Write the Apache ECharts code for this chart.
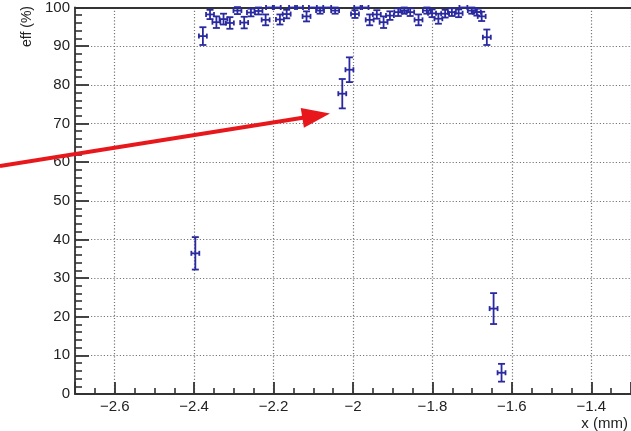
<!DOCTYPE html>
<html>
<head>
<meta charset="utf-8">
<script src="https://cdn.jsdelivr.net/npm/echarts@6/dist/echarts.min.js"></script>
<style>
  html, body { margin: 0; padding: 0; background: #fff; }
  #chart { width: 631px; height: 431px; }
</style>
</head>
<body>
<div id="chart"></div>
<script>
// efficiency vs x position
var xPos = [-2.397, -2.378, -2.360, -2.344, -2.326, -2.310, -2.291, -2.274, -2.257, -2.238,
  -2.220, -2.209, -2.192, -2.184, -2.167, -2.151, -2.136, -2.117, -2.101, -2.083,
  -2.065, -2.045, -2.027, -2.009, -1.995, -1.987, -1.971, -1.958, -1.940, -1.923,
  -1.907, -1.886, -1.871, -1.856, -1.835, -1.814, -1.801, -1.785, -1.768, -1.751,
  -1.734, -1.722, -1.701, -1.688, -1.676, -1.663, -1.646, -1.626];
var eff = [36.4, 92.6, 98.2, 96.2, 97.0, 96.0, 99.2, 96.1, 98.7, 99.1,
  96.8, 100, 100, 96.9, 98.3, 100, 100, 97.7, 100, 99.2,
  100, 99.2, 77.7, 83.9, 98.3, 100, 100, 96.8, 98.2, 96.2,
  97.9, 98.8, 99.2, 98.8, 96.8, 99.2, 98.5, 97.1, 98.4, 98.8,
  98.5, 100, 99.2, 98.8, 97.7, 92.3, 22.1, 5.5];
var effErr = [4.2, 2.3, 1.2, 1.5, 1.4, 1.5, 0.9, 1.5, 1.0, 0.9,
  1.4, 0, 0, 1.3, 1.1, 0, 0, 1.3, 0, 0.8,
  0, 0.8, 3.8, 3.2, 1.0, 0, 0, 1.4, 1.1, 1.5,
  1.1, 1.0, 0.8, 1.0, 1.4, 0.8, 1.0, 1.3, 1.0, 1.0,
  1.0, 0, 0.8, 0.9, 1.2, 2.0, 4.0, 2.3];
var xErr = 0.01; // half bin width

// annotation arrow (data coords): tail -> tip
var arrowTail = [-2.889, 59.0];
var arrowTip = [-2.058, 72.6];

var markColor = '#2a2aa0';
var axisColor = '#333';
var font = '"Liberation Sans", Arial, Helvetica, sans-serif';

var points = [];
for (var i = 0; i < xPos.length; i++) {
  points.push([xPos[i], eff[i], effErr[i]]);
}

function renderErr(params, api) {
  var x = api.value(0), y = api.value(1), e = api.value(2);
  var c = api.coord([x, y]);
  var l = api.coord([x - xErr, y]);
  var r = api.coord([x + xErr, y]);
  var st = { stroke: markColor, lineWidth: 1.8 };
  var kids = [
    { type: 'line', shape: { x1: l[0], y1: c[1], x2: r[0], y2: c[1] }, style: st },
    { type: 'line', shape: { x1: l[0], y1: c[1] - 2.5, x2: l[0], y2: c[1] + 2.5 }, style: st },
    { type: 'line', shape: { x1: r[0], y1: c[1] - 2.5, x2: r[0], y2: c[1] + 2.5 }, style: st }
  ];
  if (e > 0) {
    var t = api.coord([x, y + e]);
    var b = api.coord([x, y - e]);
    kids.push({ type: 'line', shape: { x1: c[0], y1: t[1], x2: c[0], y2: b[1] }, style: st });
    kids.push({ type: 'line', shape: { x1: c[0] - 3.5, y1: t[1], x2: c[0] + 3.5, y2: t[1] }, style: st });
    kids.push({ type: 'line', shape: { x1: c[0] - 3.5, y1: b[1], x2: c[0] + 3.5, y2: b[1] }, style: st });
  }
  return { type: 'group', children: kids };
}

var chart = echarts.init(document.getElementById('chart'));

chart.setOption({
  animation: false,
  backgroundColor: '#fff',
  grid: { left: 75, top: 7, right: 0, bottom: 37 },
  xAxis: [{
    type: 'value',
    min: -2.7,
    max: -1.3,
    splitNumber: 7,
    axisLine: { show: true, lineStyle: { color: axisColor, width: 1.8 } },
    axisTick: { show: true, inside: true, length: 12, lineStyle: { color: axisColor, width: 1.8 } },
    minorTick: { show: true, splitNumber: 4, length: 6, lineStyle: { color: axisColor, width: 1.6 } },
    axisLabel: {
      showMinLabel: false, showMaxLabel: false,
      color: '#222', fontSize: 15, fontFamily: font, margin: 5,
      formatter: function (v) { return String(+v.toFixed(1)).replace('-', '\u2212'); }
    },
    splitLine: { show: true, lineStyle: { color: '#777', type: [1.2, 2], width: 1.2 } }
  }, {
    type: 'value',
    position: 'top',
    min: -2.7,
    max: -1.3,
    axisLine: { show: true, onZero: false, lineStyle: { color: axisColor, width: 1.8 } },
    axisTick: { show: false },
    axisLabel: { show: false },
    splitLine: { show: false }
  }],
  yAxis: {
    type: 'value',
    min: 0,
    max: 100,
    interval: 10,
    axisLine: { show: true, lineStyle: { color: axisColor, width: 1.8 } },
    axisTick: { show: true, inside: true, length: 14, lineStyle: { color: axisColor, width: 1.8 } },
    minorTick: { show: true, splitNumber: 5, length: 7, lineStyle: { color: axisColor, width: 1.6 } },
    axisLabel: { color: '#222', fontSize: 15, fontFamily: font, margin: 5 },
    splitLine: { show: true, lineStyle: { color: '#777', type: [1.2, 2], width: 1.2 } }
  },
  series: [{
    type: 'custom',
    xAxisIndex: 0,
    yAxisIndex: 0,
    clip: false,
    renderItem: renderErr,
    encode: { x: 0, y: 1 },
    data: points,
    z: 5
  }]
});

// overlay: axis titles and the red arrow
var p0 = chart.convertToPixel({ xAxisIndex: 0, yAxisIndex: 0 }, arrowTail);
var p1 = chart.convertToPixel({ xAxisIndex: 0, yAxisIndex: 0 }, arrowTip);
var dx = p1[0] - p0[0], dy = p1[1] - p0[1];
var len = Math.sqrt(dx * dx + dy * dy);
var ux = dx / len, uy = dy / len;
var headLen = 28, headHalf = 10;
var bx = p1[0] - ux * headLen, by = p1[1] - uy * headLen;

chart.setOption({
  graphic: [{
    type: 'text', x: 27, y: 6, rotation: Math.PI / 2,
    style: { text: 'eff (%)', fill: '#222', font: '14px ' + font, align: 'right', verticalAlign: 'middle' }
  }, {
    type: 'text', x: 628, y: 424,
    style: { text: 'x (mm)', fill: '#222', font: '15px ' + font, align: 'right', verticalAlign: 'middle' }
  }, {
    type: 'line', z: 20,
    shape: { x1: p0[0], y1: p0[1], x2: bx + ux * 2, y2: by + uy * 2 },
    style: { stroke: '#e8171c', lineWidth: 4 }
  }, {
    type: 'polygon', z: 20,
    shape: { points: [[p1[0], p1[1]], [bx - uy * headHalf, by + ux * headHalf], [bx + uy * headHalf, by - ux * headHalf]] },
    style: { fill: '#e8171c' }
  }]
});
</script>
</body>
</html>
